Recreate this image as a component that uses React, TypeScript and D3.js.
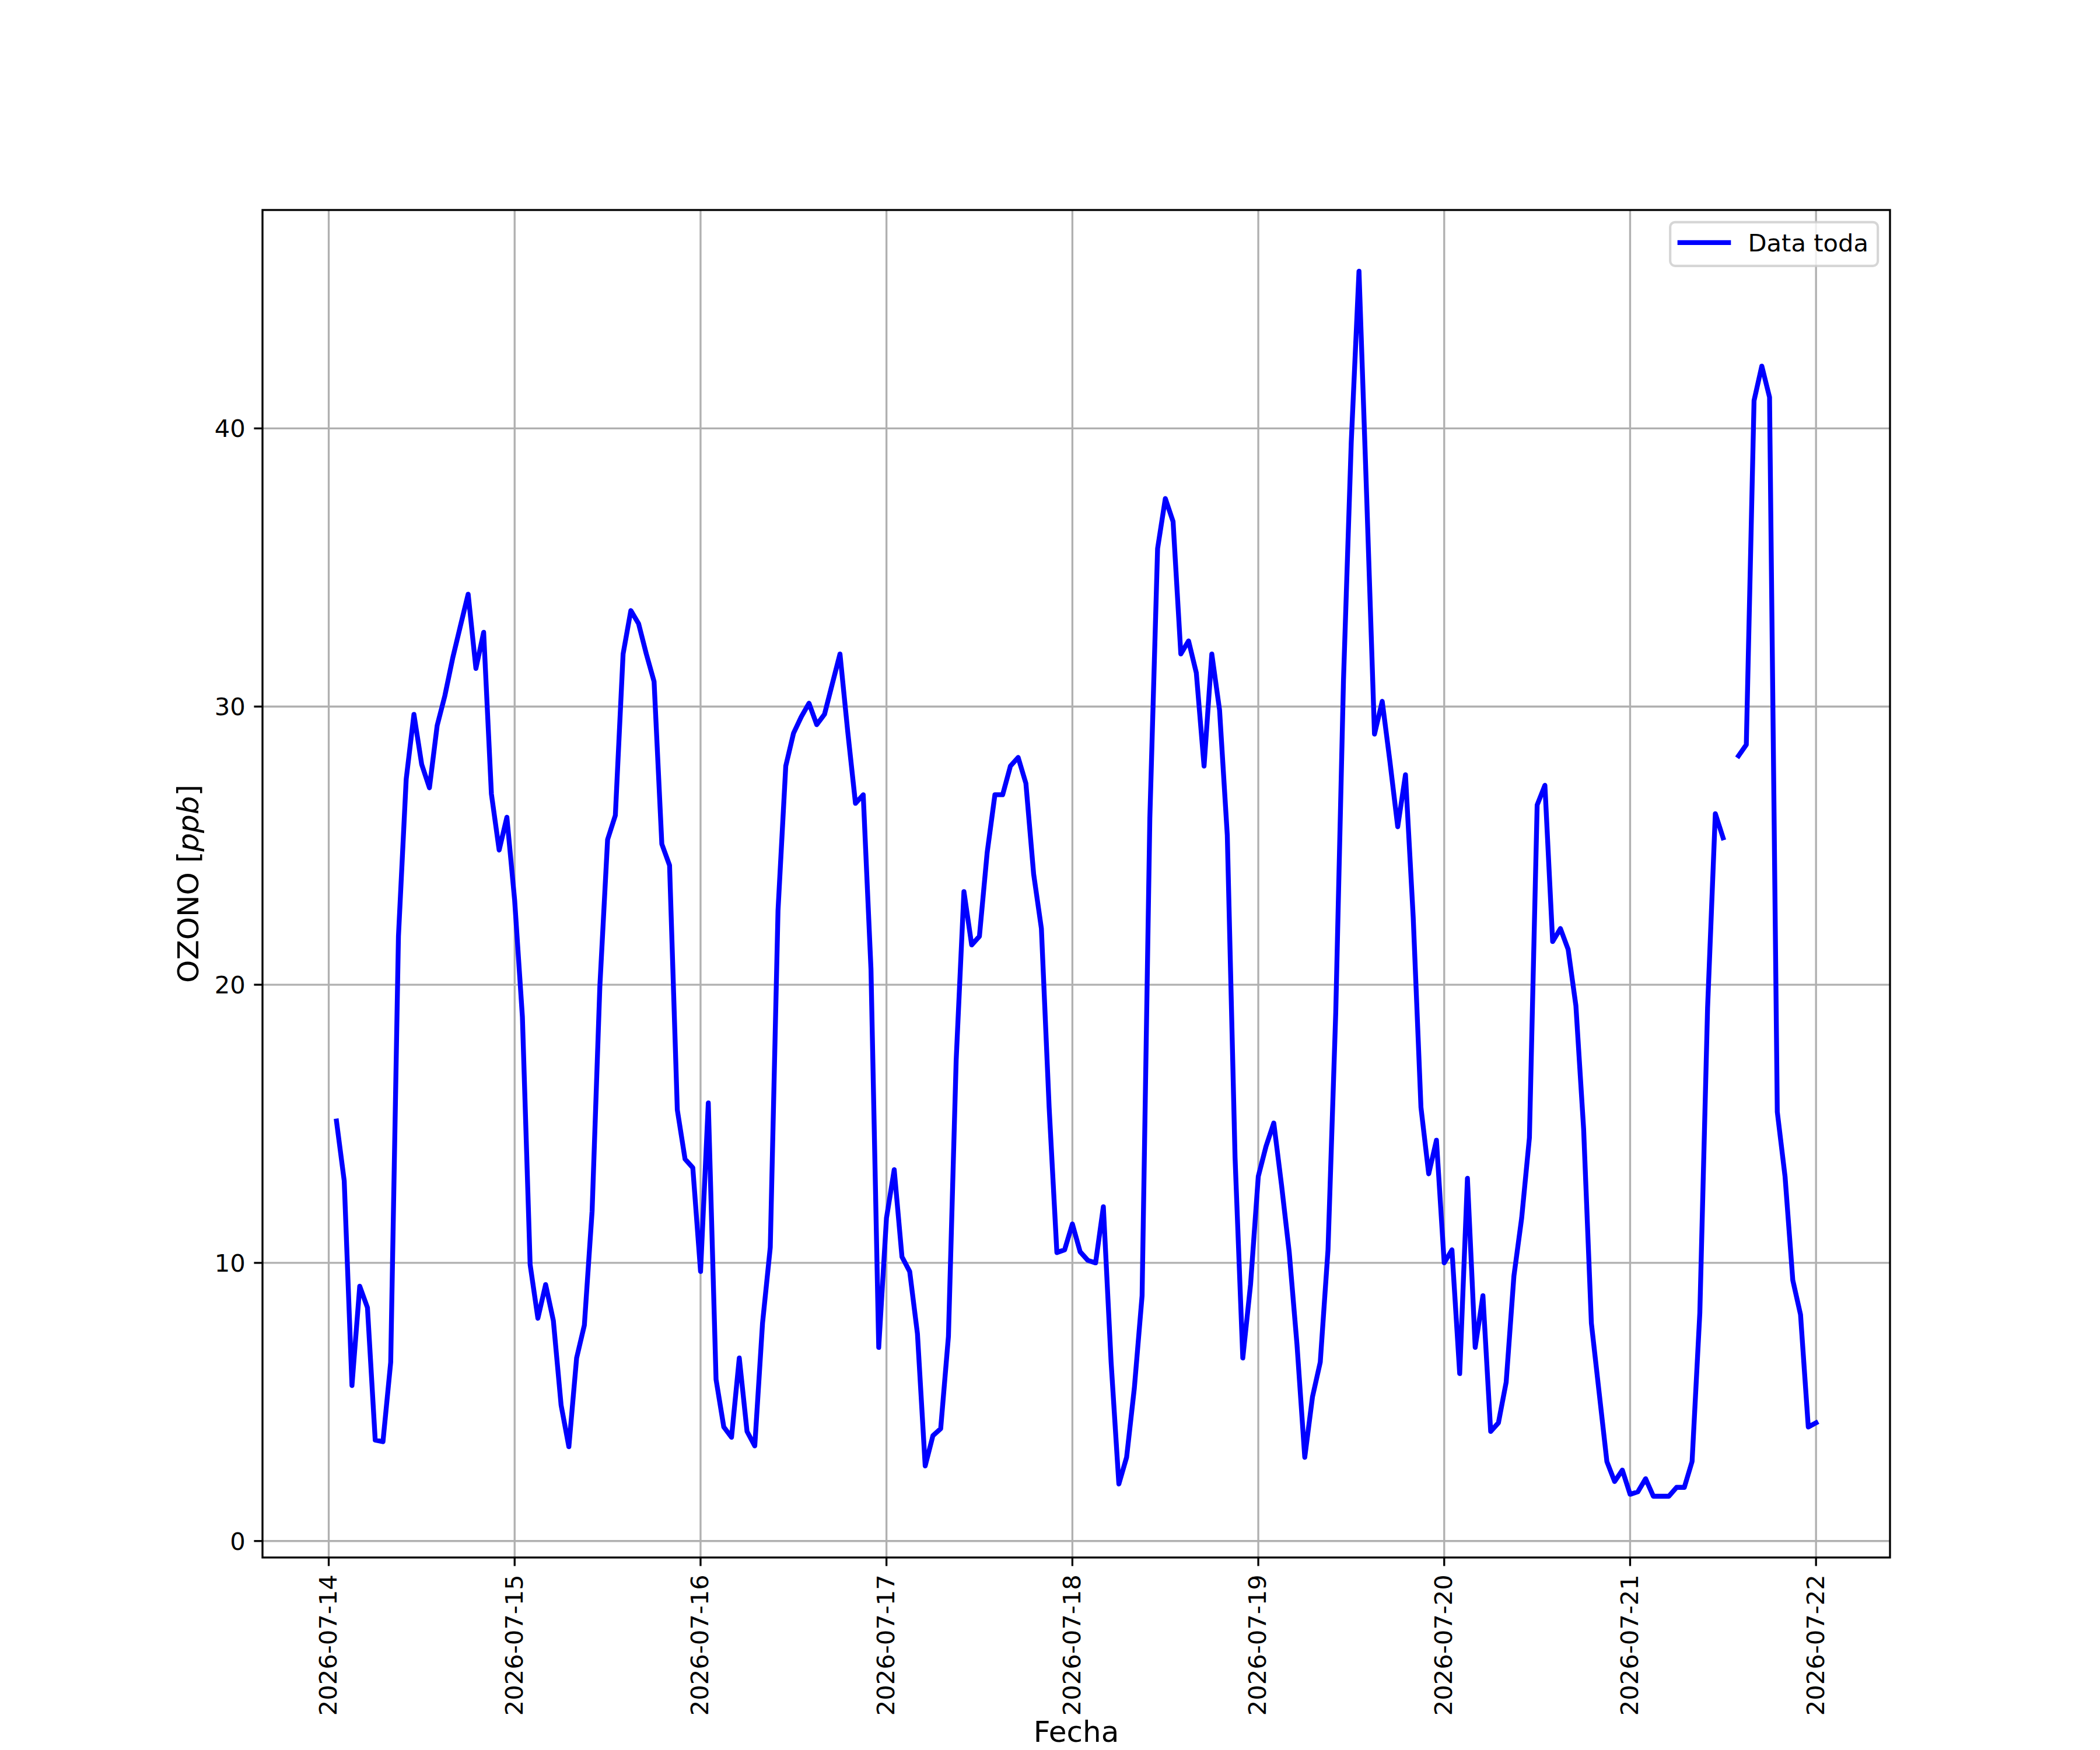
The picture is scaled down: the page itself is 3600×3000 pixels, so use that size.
import React from "react";
import * as d3 from "d3";

// ---------- data (hourly ozone, ppb) ----------
// day14 starts at 01:00; following days start at 00:00
const day14 = [15.1, 12.95, 5.59, 9.16, 8.39, 3.63, 3.57, 6.43, 21.74, 27.39, 29.72, 27.92, 27.08, 29.32, 30.4, 31.74, 32.9, 34.04, 31.37, 32.67, 26.86, 24.84, 26.02];
const day15 = [23.04, 18.85, 9.94, 8.01, 9.22, 7.92, 4.88, 3.39, 6.58, 7.76, 11.86, 19.94, 25.22, 26.09, 31.89, 33.45, 32.98, 31.89, 30.9, 25.06, 24.29, 15.5, 13.73, 13.42];
const day16 = [9.69, 15.75, 5.81, 4.1, 3.73, 6.58, 3.94, 3.42, 7.83, 10.56, 22.67, 27.86, 29.04, 29.63, 30.12, 29.35, 29.72, 30.81, 31.89, 29.1, 26.52, 26.83, 20.56, 6.96];
const day17 = [11.61, 13.35, 10.22, 9.69, 7.45, 2.7, 3.79, 4.04, 7.36, 17.3, 23.35, 21.43, 21.74, 24.75, 26.83, 26.83, 27.86, 28.17, 27.24, 23.98, 22.02, 15.59, 10.37, 10.47];
const day18 = [11.4, 10.4, 10.09, 10.0, 12.02, 6.43, 2.05, 3.01, 5.5, 8.82, 25.99, 35.68, 37.48, 36.65, 31.89, 32.36, 31.21, 27.86, 31.89, 29.88, 25.37, 13.79, 6.58, 9.22];
const day19 = [13.11, 14.19, 15.03, 12.8, 10.37, 7.05, 3.01, 5.19, 6.43, 10.47, 19.01, 30.96, 39.5, 45.65, 37.48, 29.01, 30.19, 28.01, 25.68, 27.55, 22.42, 15.59, 13.2, 14.41];
const day20 = [10.0, 10.47, 6.02, 13.04, 6.96, 8.82, 3.94, 4.25, 5.71, 9.53, 11.61, 14.5, 26.46, 27.17, 21.55, 22.02, 21.27, 19.25, 14.81, 7.83, 5.34, 2.86, 2.14, 2.55];
const day21 = [1.68, 1.77, 2.24, 1.61, 1.61, 1.61, 1.93, 1.93, 2.86, 8.2, 19.16, 26.15, 25.28, NaN, 28.23, 28.63, 41.0, 42.24, 41.12, 15.43, 13.11, 9.38, 8.14, 4.1];
const day22 = [4.25];

const startTime = "2026-07-14T01:00:00Z";
const xTickLabels = ["2026-07-14", "2026-07-15", "2026-07-16", "2026-07-17", "2026-07-18", "2026-07-19", "2026-07-20", "2026-07-21", "2026-07-22"];
const yTickValues = [0, 10, 20, 30, 40];
const seriesName = "Data toda";
const xLabel = "Fecha";

// ---------- layout ----------
const W = 3600;
const H = 3000;
const PT = 300 / 72;
const FS = 10 * PT;
const LFS = 12 * PT;
const L = 0.125 * W, R = 0.9 * W, T = 0.12 * H, B = 0.89 * H;
const FONT = "'DejaVu Sans', sans-serif";

const values = [...day14, ...day15, ...day16, ...day17, ...day18, ...day19, ...day20, ...day21, ...day22];
const t0 = new Date(startTime).getTime();
const data = values.map((v, i) => ({ t: new Date(t0 + i * 3600e3), v }));

export default function App() {
  const [tMin, tMax] = d3.extent(data, (d) => d.t) as [Date, Date];
  const span = tMax.getTime() - tMin.getTime();
  const x = d3
    .scaleUtc()
    .domain([new Date(tMin.getTime() - 0.05 * span), new Date(tMax.getTime() + 0.05 * span)])
    .range([L, R]);
  const valid = data.filter((d) => !isNaN(d.v));
  const [vMin, vMax] = d3.extent(valid, (d) => d.v) as [number, number];
  const vs = vMax - vMin;
  const y = d3.scaleLinear().domain([vMin - 0.05 * vs, vMax + 0.05 * vs]).range([B, T]);

  const line = d3
    .line<{ t: Date; v: number }>()
    .defined((d) => !isNaN(d.v))
    .x((d) => x(d.t))
    .y((d) => y(d.v));

  const parse = d3.utcParse("%Y-%m-%d");
  const xTicks = xTickLabels.map((s) => ({ label: s, pos: x(parse(s) as Date) }));

  const tickLen = 3.5 * PT;
  const tickPad = 3.5 * PT;
  const lw = 0.8 * PT;

  // legend geometry
  const legRight = R - 0.5 * FS;
  const legTop = T + 0.5 * FS;
  const legW = 356;
  const legH = 75;
  const legX = legRight - legW;
  const handleX0 = legX + 0.4 * FS;
  const handleX1 = handleX0 + 2 * FS;
  const legMidY = legTop + 35;

  return (
    <svg
      width={W}
      height={H}
      viewBox={`0 0 ${W} ${H}`}
      style={{ position: "absolute", left: 0, top: 0, background: "#fff" }}
      fontFamily={FONT}
    >
      <rect x={0} y={0} width={W} height={H} fill="#fff" />
      {/* grid */}
      <g stroke="#b0b0b0" strokeWidth={lw}>
        {xTicks.map((t) => (
          <line key={t.label} x1={t.pos} x2={t.pos} y1={T} y2={B} />
        ))}
        {yTickValues.map((v) => (
          <line key={v} x1={L} x2={R} y1={y(v)} y2={y(v)} />
        ))}
      </g>
      {/* series */}
      <path
        d={line(data) || ""}
        fill="none"
        stroke="#0000ff"
        strokeWidth={2 * PT}
        strokeLinejoin="round"
        strokeLinecap="square"
      />
      {/* spines */}
      <rect x={L} y={T} width={R - L} height={B - T} fill="none" stroke="#000" strokeWidth={lw} />
      {/* x ticks */}
      <g>
        {xTicks.map((t) => (
          <g key={t.label}>
            <line x1={t.pos} x2={t.pos} y1={B} y2={B + tickLen} stroke="#000" strokeWidth={lw} />
            <text
              transform={`translate(${t.pos},${B + tickLen + tickPad}) rotate(-90)`}
              textAnchor="end"
              dy="0.32em"
              fontSize={FS}
              fill="#000"
            >
              {t.label}
            </text>
          </g>
        ))}
      </g>
      {/* y ticks */}
      <g>
        {yTickValues.map((v) => (
          <g key={v}>
            <line x1={L - tickLen} x2={L} y1={y(v)} y2={y(v)} stroke="#000" strokeWidth={lw} />
            <text
              x={L - tickLen - tickPad}
              y={y(v)}
              dy="0.36em"
              textAnchor="end"
              fontSize={FS}
              fill="#000"
            >
              {d3.format("d")(v)}
            </text>
          </g>
        ))}
      </g>
      {/* axis labels */}
      <text x={(L + R) / 2} y={2986} textAnchor="middle" fontSize={LFS} fill="#000">
        {xLabel}
      </text>
      <text
        transform={`translate(340,${(T + B) / 2}) rotate(-90)`}
        textAnchor="middle"
        fontSize={LFS}
        fill="#000"
      >
        OZONO [<tspan fontStyle="italic">ppb</tspan>]
      </text>
      {/* legend */}
      <rect
        x={legX}
        y={legTop}
        width={legW}
        height={legH}
        rx={0.2 * FS}
        ry={0.2 * FS}
        fill="#fff"
        fillOpacity={0.8}
        stroke="#cccccc"
        strokeOpacity={0.8}
        strokeWidth={1 * PT}
      />
      <line
        x1={handleX0}
        x2={handleX1}
        y1={legMidY}
        y2={legMidY}
        stroke="#0000ff"
        strokeWidth={2 * PT}
        strokeLinecap="square"
      />
      <text x={handleX1 + 0.8 * FS} y={legTop + 50} fontSize={FS} fill="#000">
        {seriesName}
      </text>
    </svg>
  );
}
